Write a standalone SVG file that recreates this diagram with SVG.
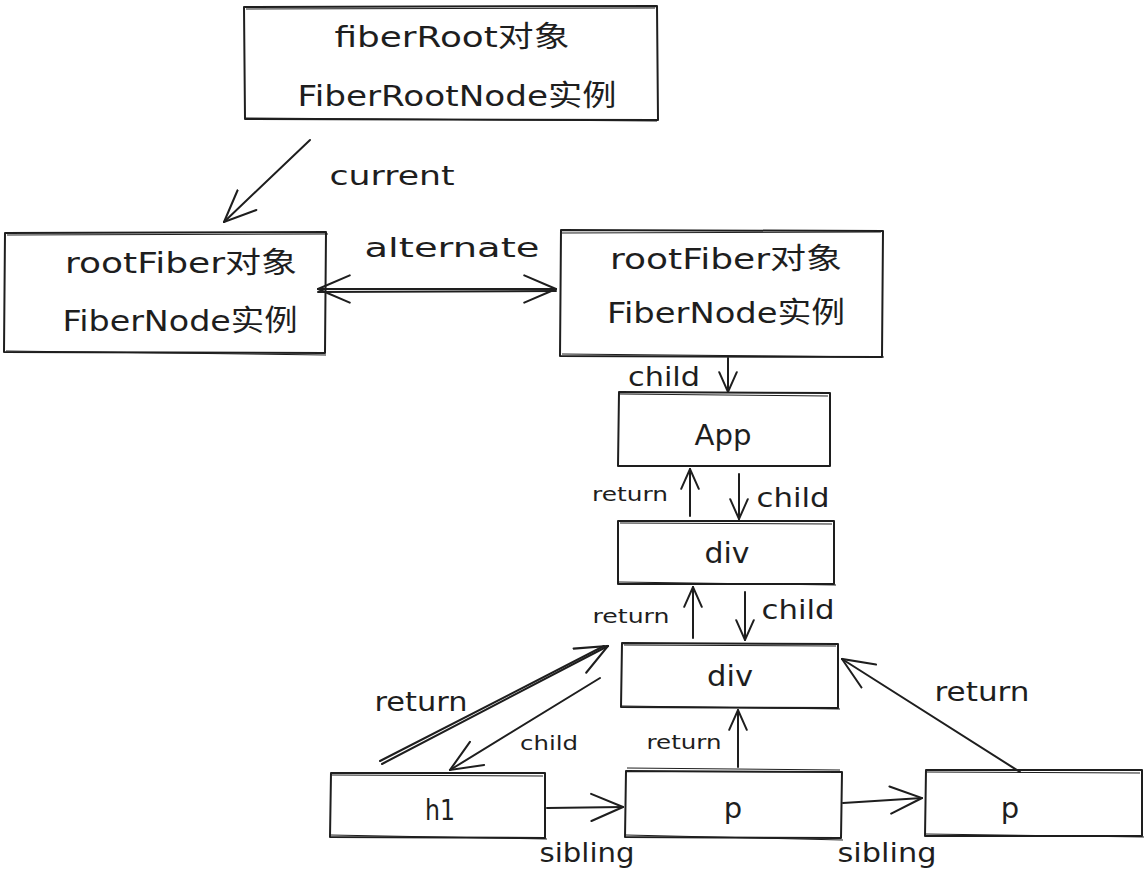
<svg xmlns="http://www.w3.org/2000/svg" width="1148" height="874" viewBox="0 0 1148 874">
<defs>
<style>
.box{fill:none;stroke:#1e1e1e;stroke-width:2;stroke-linejoin:round}
.box2{fill:none;stroke:#1e1e1e;stroke-width:1;}
.ln{fill:none;stroke:#1e1e1e;stroke-width:2;stroke-linecap:round}
.t{font-family:"DejaVu Sans","Noto Sans CJK SC",sans-serif;fill:#1e1e1e;text-anchor:middle}
.big{font-size:29px}
.mid{font-size:26px}
.sm{font-size:19px}
</style>
<marker id="ah" viewBox="0 0 20 20" refX="19" refY="10" markerWidth="22" markerHeight="22" markerUnits="userSpaceOnUse" orient="auto">
<path d="M1,2 L19,10 L1,18" fill="none" stroke="#1e1e1e" stroke-width="1.8" stroke-linecap="round"/>
</marker>
<marker id="ahsL" viewBox="0 0 30 30" refX="1" refY="15" markerWidth="34" markerHeight="34" markerUnits="userSpaceOnUse" orient="auto">
<path d="M29,3 L1,15 L29,27" fill="none" stroke="#1e1e1e" stroke-width="1.8" stroke-linecap="round"/>
</marker>
<marker id="ahL" viewBox="0 0 30 30" refX="29" refY="15" markerWidth="34" markerHeight="34" markerUnits="userSpaceOnUse" orient="auto">
<path d="M1,3 L29,15 L1,27" fill="none" stroke="#1e1e1e" stroke-width="1.8" stroke-linecap="round"/>
</marker>
</defs>

<g id="fiberRoot">
<path class="box" d="M244,7 L657,6 L658,120 L245,119 Z"/>
<path class="box2" d="M246,9 L655,8 M246,118 L657,121"/>
<text class="t big" x="452" y="47" textLength="235" lengthAdjust="spacingAndGlyphs">fiberRoot对象</text>
<text class="t big" x="457" y="106" textLength="319" lengthAdjust="spacingAndGlyphs">FiberRootNode实例</text>
</g>

<g id="rootFiberCurrent">
<path class="box" d="M5,233 L326,232 L325,353 L4,352 Z"/>
<path class="box2" d="M7,235 L328,234 M6,351 L326,355"/>
<text class="t big" x="181" y="273" textLength="232" lengthAdjust="spacingAndGlyphs">rootFiber对象</text>
<text class="t big" x="180" y="331" textLength="235" lengthAdjust="spacingAndGlyphs">FiberNode实例</text>
</g>

<g id="rootFiberWip">
<path class="box" d="M561,230 L883,231 L882,357 L560,356 Z"/>
<path class="box2" d="M562,233 L881,232 M562,354 L884,357"/>
<text class="t big" x="726" y="269" textLength="232" lengthAdjust="spacingAndGlyphs">rootFiber对象</text>
<text class="t big" x="726" y="323" textLength="238" lengthAdjust="spacingAndGlyphs">FiberNode实例</text>
</g>

<g id="app">
<path class="box" d="M619,392 L830,393 L830,466 L618,466 Z"/>
<path class="box2" d="M620,394 L828,396"/>
<text class="t big" x="723" y="445" textLength="57" lengthAdjust="spacingAndGlyphs">App</text>
</g>

<g id="div1">
<path class="box" d="M618,521 L834,521 L834,584 L618,584 Z"/>
<path class="box2" d="M620,523 L832,524 M619,582 L836,585"/>
<text class="t big" x="727" y="563" textLength="45" lengthAdjust="spacingAndGlyphs">div</text>
</g>

<g id="div2">
<path class="box" d="M622,643 L838,644 L838,708 L621,707 Z"/>
<path class="box2" d="M624,645 L836,646 M622,706 L840,709"/>
<text class="t big" x="730" y="686" textLength="46" lengthAdjust="spacingAndGlyphs">div</text>
</g>

<g id="h1">
<path class="box" d="M331,773 L545,773 L545,838 L330,837 Z"/>
<path class="box2" d="M332,775 L543,776 M330,835 L547,839"/>
<text class="t big" x="440" y="820" textLength="30" lengthAdjust="spacingAndGlyphs">h1</text>
</g>

<g id="p1">
<path class="box" d="M626,771 L842,772 L841,838 L625,837 Z"/>
<path class="box2" d="M627,768 L840,770 M626,835 L843,840"/>
<text class="t big" x="733" y="818">p</text>
</g>

<g id="p2">
<path class="box" d="M926,770 L1142,770 L1142,836 L925,836 Z"/>
<path class="box2" d="M927,772 L1140,773 M926,834 L1144,837"/>
<text class="t big" x="1010" y="818">p</text>
</g>

<g id="connectors">
<path class="ln" d="M310,140 L224,222" marker-end="url(#ahL)"/>
<path class="ln" d="M318,289 L556,289" marker-start="url(#ahsL)" marker-end="url(#ahL)"/>
<path class="ln" d="M318,292 L556,291"/>
<path class="ln" d="M728,358 L728,392" marker-end="url(#ah)"/>
<path class="ln" d="M690,516 L690,469" marker-end="url(#ah)"/>
<path class="ln" d="M739,474 L739,519" marker-end="url(#ah)"/>
<path class="ln" d="M693,638 L693,587" marker-end="url(#ah)"/>
<path class="ln" d="M745,592 L745,640" marker-end="url(#ah)"/>
<path class="ln" d="M382,764 L608,646" marker-end="url(#ahL)"/>
<path class="ln" d="M380,761 L604,646"/>
<path class="ln" d="M600,678 L450,770" marker-end="url(#ahL)"/>
<path class="ln" d="M738,767 L738,710" marker-end="url(#ah)"/>
<path class="ln" d="M1020,772 L842,659" marker-end="url(#ahL)"/>
<path class="ln" d="M547,808 L623,807" marker-end="url(#ahL)"/>
<path class="ln" d="M843,803 L922,798" marker-end="url(#ahL)"/>
</g>

<g id="labels">
<text class="t mid" x="392" y="185" textLength="125" lengthAdjust="spacingAndGlyphs">current</text>
<text class="t mid" x="452" y="257" textLength="175" lengthAdjust="spacingAndGlyphs">alternate</text>
<text class="t mid" x="664" y="386" textLength="72" lengthAdjust="spacingAndGlyphs">child</text>
<text class="t sm" x="630" y="501" textLength="76" lengthAdjust="spacingAndGlyphs">return</text>
<text class="t mid" x="793" y="507" textLength="73" lengthAdjust="spacingAndGlyphs">child</text>
<text class="t sm" x="631" y="623" textLength="77" lengthAdjust="spacingAndGlyphs">return</text>
<text class="t mid" x="798" y="619" textLength="73" lengthAdjust="spacingAndGlyphs">child</text>
<text class="t mid" x="421" y="711" textLength="93" lengthAdjust="spacingAndGlyphs">return</text>
<text class="t sm" x="549" y="750" textLength="58" lengthAdjust="spacingAndGlyphs">child</text>
<text class="t sm" x="684" y="749" textLength="75" lengthAdjust="spacingAndGlyphs">return</text>
<text class="t mid" x="982" y="701" textLength="95" lengthAdjust="spacingAndGlyphs">return</text>
<text class="t mid" x="587" y="862" textLength="95" lengthAdjust="spacingAndGlyphs">sibling</text>
<text class="t mid" x="887" y="862" textLength="99" lengthAdjust="spacingAndGlyphs">sibling</text>
</g>
</svg>
